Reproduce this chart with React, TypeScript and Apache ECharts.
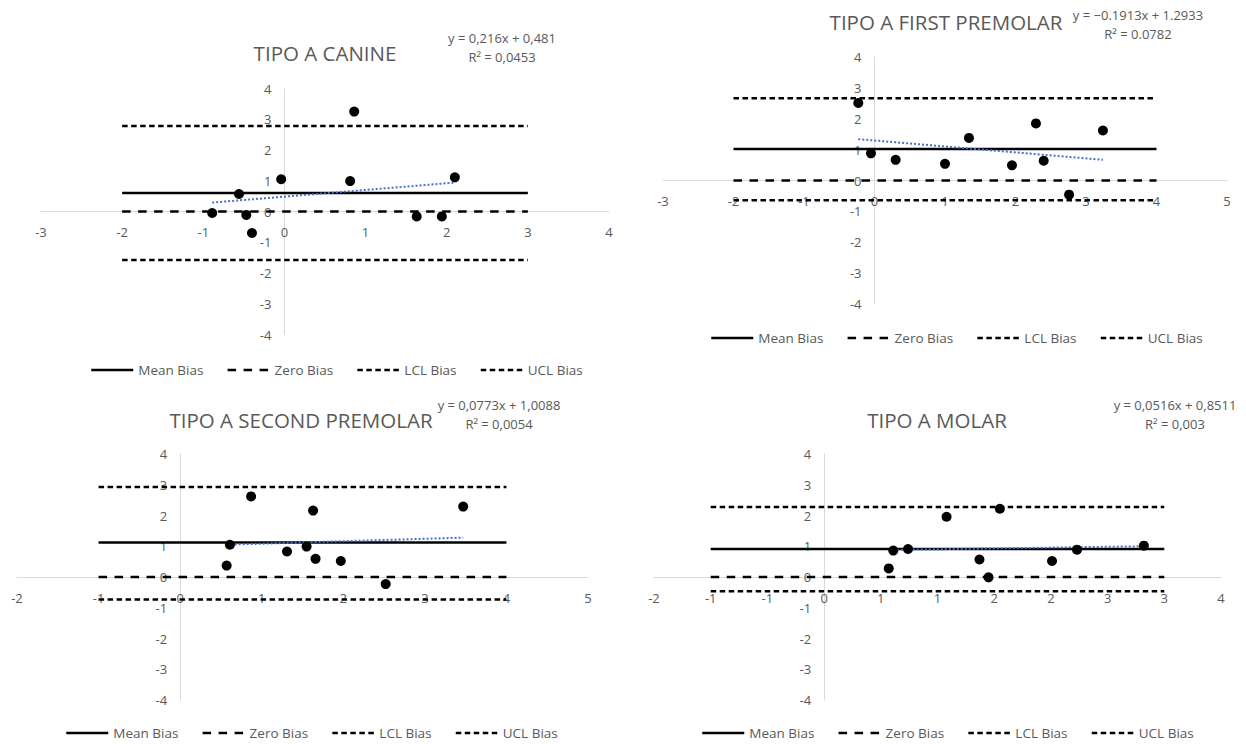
import React, { useEffect, useRef } from 'react';
import * as echarts from 'echarts';

const legendNames = ['Mean Bias', 'Zero Bias', 'LCL Bias', 'UCL Bias'];

// ---- TIPO A CANINE ----
const canineTitle = 'TIPO A CANINE';
const canineEq = 'y = 0,216x + 0,481\nR² = 0,0453';
const canineX = [-0.89, -0.56, -0.47, -0.40, -0.04, 0.81, 0.86, 1.63, 1.94, 2.10];
const canineY = [-0.05, 0.57, -0.11, -0.70, 1.05, 0.99, 3.25, -0.16, -0.16, 1.11];
const canineBias = [0.60, 0, -1.58, 2.78]; // mean, zero, LCL, UCL
const canineSpan = [-2, 3];
const canineTrend = [[-0.89, 0.29], [2.10, 0.94]];
const canineXRange = [-3, 4, 1];

// ---- TIPO A FIRST PREMOLAR ----
const pm1Title = 'TIPO A FIRST PREMOLAR';
const pm1Eq = 'y = −0.1913x + 1.2933\nR² = 0.0782';
const pm1X = [-0.23, -0.05, 0.30, 1.00, 1.34, 1.95, 2.29, 2.40, 2.76, 3.24];
const pm1Y = [2.51, 0.88, 0.67, 0.54, 1.38, 0.49, 1.85, 0.64, -0.46, 1.62];
const pm1Bias = [1.02, 0, -0.64, 2.66];
const pm1Span = [-2, 4];
const pm1Trend = [[-0.23, 1.34], [3.24, 0.67]];
const pm1XRange = [-3, 5, 1];

// ---- TIPO A SECOND PREMOLAR ----
const pm2Title = 'TIPO A SECOND PREMOLAR';
const pm2Eq = 'y = 0,0773x + 1,0088\nR² = 0,0054';
const pm2X = [0.57, 0.61, 0.87, 1.31, 1.55, 1.63, 1.66, 1.97, 2.52, 3.47];
const pm2Y = [0.37, 1.05, 2.62, 0.83, 0.99, 2.16, 0.59, 0.52, -0.23, 2.29];
const pm2Bias = [1.12, 0, -0.73, 2.93];
const pm2Span = [-1, 4];
const pm2Trend = [[0.57, 1.05], [3.47, 1.28]];
const pm2XRange = [-2, 5, 1];

// ---- TIPO A MOLAR ----
const molarTitle = 'TIPO A MOLAR';
const molarEq = 'y = 0,0516x + 0,8511\nR² = 0,003';
const molarX = [0.57, 0.61, 0.74, 1.08, 1.37, 1.45, 1.55, 2.01, 2.23, 2.82];
const molarY = [0.28, 0.86, 0.91, 1.96, 0.57, -0.01, 2.22, 0.52, 0.89, 1.02];
const molarBias = [0.91, 0, -0.46, 2.28];
const molarSpan = [-1, 3];
const molarTrend = [[0.57, 0.88], [2.82, 1.0]];
const molarXRange = [-1.5, 3.5, 0.5];

const yRange = [-4, 4, 1];

const panels = [
  { title: canineTitle, eq: canineEq, xs: canineX, ys: canineY, bias: canineBias, span: canineSpan, trend: canineTrend, xr: canineXRange },
  { title: pm1Title, eq: pm1Eq, xs: pm1X, ys: pm1Y, bias: pm1Bias, span: pm1Span, trend: pm1Trend, xr: pm1XRange },
  { title: pm2Title, eq: pm2Eq, xs: pm2X, ys: pm2Y, bias: pm2Bias, span: pm2Span, trend: pm2Trend, xr: pm2XRange },
  { title: molarTitle, eq: molarEq, xs: molarX, ys: molarY, bias: molarBias, span: molarSpan, trend: molarTrend, xr: molarXRange },
];

const layout = [
  { grid: { left: 41, top: 88.5, width: 568, height: 246 }, title: [325, 53], eq: [502, 47.5], legend: [85, 358] },
  { grid: { left: 663, top: 57, width: 564, height: 247 }, title: [946, 22], eq: [1138, 24], legend: [705, 326] },
  { grid: { left: 17, top: 454, width: 571, height: 246 }, title: [301, 420], eq: [499, 414], legend: [60, 721] },
  { grid: { left: 654, top: 454, width: 567, height: 246 }, title: [937, 420], eq: [1175, 414], legend: [696, 721] },
];

const FONT = '"Open Sans", Lato, sans-serif';
const TXT = '#595959';
const AXIS = '#d9d9d9';
const lineTypes: any[] = ['solid', [8.5, 7.5], [5.5, 3.5], [5.5, 3.5]];

function buildOption() {
  const grid: any[] = [];
  const xAxis: any[] = [];
  const yAxis: any[] = [];
  const series: any[] = [];
  const graphic: any[] = [];
  const legend: any[] = [];

  panels.forEach((p, i) => {
    const L = layout[i];
    const g = L.grid;
    grid.push({ ...g });
    const fmt = (v: number) => String(Math.sign(v) * Math.round(Math.abs(v)));
    const axisCommon = {
      axisLine: { onZero: false, lineStyle: { color: AXIS, width: 1 } },
      axisTick: { show: false },
      splitLine: { show: false },
    };
    // shift axes so they cross at zero (Excel style)
    const xOffset = -(g.height * (0 - yRange[0]) / (yRange[1] - yRange[0]));
    const yOffset = -(g.width * (0 - p.xr[0]) / (p.xr[1] - p.xr[0]));
    xAxis.push({
      type: 'value', gridIndex: i, min: p.xr[0], max: p.xr[1], interval: p.xr[2],
      position: 'bottom', offset: xOffset,
      ...axisCommon,
      axisLabel: { color: TXT, fontSize: 13, fontFamily: FONT, margin: 14, showMinLabel: true, showMaxLabel: true, formatter: fmt },
    });
    yAxis.push({
      type: 'value', gridIndex: i, min: yRange[0], max: yRange[1], interval: yRange[2],
      position: 'left', offset: yOffset,
      ...axisCommon,
      axisLabel: { color: TXT, fontSize: 13, fontFamily: FONT, margin: 13, showMinLabel: true, showMaxLabel: true },
    });
    p.bias.forEach((v, j) => {
      series.push({
        type: 'line', name: legendNames[j], xAxisIndex: i, yAxisIndex: i,
        data: [[p.span[0], v], [p.span[1], v]],
        symbol: 'none', silent: true, z: 2,
        lineStyle: { color: '#000', width: 2.5, type: lineTypes[j] },
        itemStyle: { color: '#000' },
      });
    });
    series.push({
      type: 'line', name: 'Trend ' + i, xAxisIndex: i, yAxisIndex: i,
      data: p.trend, symbol: 'none', z: 3,
      lineStyle: { color: '#4472C4', width: 2, type: [2, 2] },
    });
    series.push({
      type: 'scatter', name: 'Data ' + i, xAxisIndex: i, yAxisIndex: i,
      data: p.xs.map((x, k) => [x, p.ys[k]]),
      symbol: 'circle', symbolSize: 10, z: 4,
      itemStyle: { color: '#000', opacity: 1 },
    });
    graphic.push({
      type: 'text', x: L.title[0], y: L.title[1],
      style: { text: p.title, fill: TXT, font: `20.5px ${FONT}`, align: 'center', verticalAlign: 'middle', textAlign: 'center', textVerticalAlign: 'middle' },
    });
    graphic.push({
      type: 'text', x: L.eq[0], y: L.eq[1],
      style: { text: p.eq, fill: TXT, font: `13px ${FONT}`, lineHeight: 19, align: 'center', verticalAlign: 'middle', textAlign: 'center', textVerticalAlign: 'middle' },
    });
    legend.push({
      left: L.legend[0], top: L.legend[1], itemWidth: 42, itemHeight: 14, itemGap: 23,
      textStyle: { color: TXT, fontSize: 13.5, fontFamily: FONT },
      data: legendNames.map((n, j) => ({
        name: n,
        itemStyle: { opacity: 0 },
        lineStyle: { color: '#000', width: 2.5, type: lineTypes[j] },
      })),
    });
  });

  return { animation: false, backgroundColor: '#fff', grid, xAxis, yAxis, series, graphic, legend };
}

export default function App() {
  const ref = useRef<HTMLDivElement>(null);
  useEffect(() => {
    const chart = echarts.init(ref.current!, null, { renderer: 'svg' });
    chart.setOption(buildOption() as any);
    return () => chart.dispose();
  }, []);
  return <div ref={ref} style={{ position: 'absolute', left: 0, top: 0, width: 1246, height: 744, background: '#fff' }} />;
}
